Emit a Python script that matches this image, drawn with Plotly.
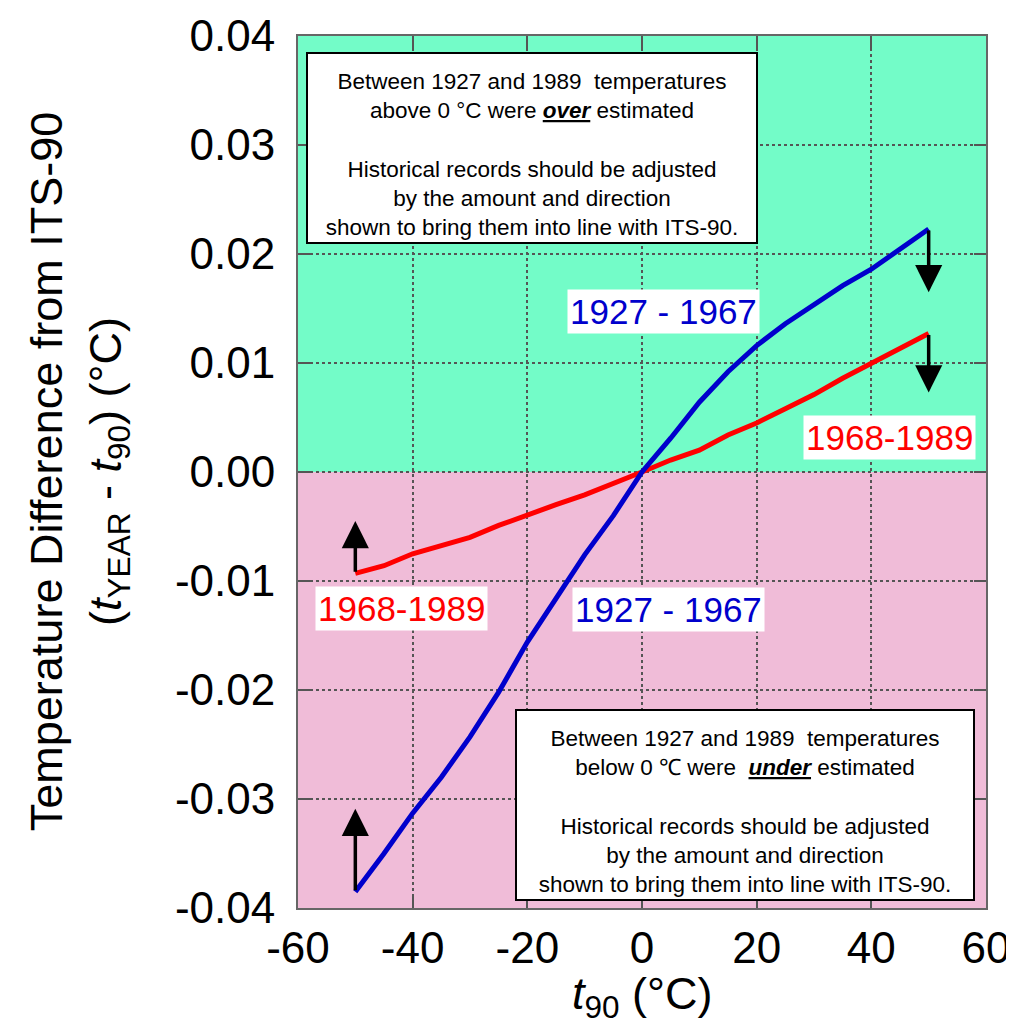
import plotly.graph_objects as go

# ---------------- data ----------------
t90 = [-50, -45, -40, -35, -30, -25, -20, -15, -10, -5, 0, 5, 10, 15, 20, 25, 30, 35, 40, 45, 50]
diff_1927_1967 = [-0.0385, -0.0350, -0.0313, -0.0280, -0.0243, -0.0202, -0.0156, -0.0117, -0.0076, -0.0040, 0.0,
                  0.0031, 0.0064, 0.0092, 0.0116, 0.0136, 0.0153, 0.0171, 0.0186, 0.0204, 0.0223]
diff_1968_1989 = [-0.0093, -0.0086, -0.0075, -0.0068, -0.0060, -0.0049, -0.0039, -0.0030, -0.0021, -0.0011, 0.0,
                  0.0011, 0.0020, 0.0034, 0.0045, 0.0058, 0.0071, 0.0086, 0.0100, 0.0114, 0.0127]

x_tickvals = [-60, -40, -20, 0, 20, 40, 60]
x_ticktext = ["-60", "-40", "-20", "0", "20", "40", "60"]
y_tickvals = [-0.04, -0.03, -0.02, -0.01, 0.0, 0.01, 0.02, 0.03, 0.04]
y_ticktext = ["-0.04", "-0.03", "-0.02", "-0.01", "0.00", "0.01", "0.02", "0.03", "0.04"]

BLUE = "#0000CC"
RED = "#FF0000"
GREEN_BG = "#73FCC8"
PINK_BG = "#F0BCD8"
FONT = "Liberation Sans, Arial, sans-serif"

fig = go.Figure()
fig.add_trace(go.Scatter(x=t90, y=diff_1968_1989, mode="lines",
                         line=dict(color=RED, width=5), showlegend=False))
fig.add_trace(go.Scatter(x=t90, y=diff_1927_1967, mode="lines",
                         line=dict(color=BLUE, width=5), showlegend=False))

# background bands
fig.add_shape(type="rect", xref="x", yref="y", x0=-60, x1=60, y0=0, y1=0.04,
              fillcolor=GREEN_BG, line=dict(width=0), layer="below")
fig.add_shape(type="rect", xref="x", yref="y", x0=-60, x1=60, y0=-0.04, y1=0,
              fillcolor=PINK_BG, line=dict(width=0), layer="below")

# arrows (tail at curve end, head pointing direction of correction)
arrow_specs = [
    (t90[0], diff_1927_1967[0], 0.0076),
    (t90[0], diff_1968_1989[0], 0.0048),
    (t90[-1], diff_1927_1967[-1], -0.0058),
    (t90[-1], diff_1968_1989[-1], -0.0054),
]
for xa, ya, dl in arrow_specs:
    fig.add_annotation(x=xa, y=ya + dl, ax=xa, ay=ya, xref="x", yref="y",
                       axref="x", ayref="y", text="", showarrow=True,
                       arrowhead=2, arrowsize=1.55, arrowwidth=3.5, arrowcolor="black")

# series labels
labels = [
    ("1927 - 1967", 3.7, 0.01468, BLUE),
    ("1968-1989", 43.1, 0.00312, RED),
    ("1968-1989", -42.0, -0.01248, RED),
    ("1927 - 1967", 4.7, -0.01266, BLUE),
]
for txt, lx, ly, col in labels:
    fig.add_annotation(x=lx, y=ly, xref="x", yref="y", text=txt, showarrow=False,
                       font=dict(family=FONT, size=35, color=col),
                       bgcolor="white", borderpad=2)

box_top = ("Between 1927 and 1989\u00a0 temperatures<br>"
           "above 0 \u00b0C were <b><i><u>over</u></i></b> estimated<br><br>"
           "Historical records should be adjusted<br>"
           "by the amount and direction<br>"
           "shown to bring them into line with ITS-90.")
box_bot = ("Between 1927 and 1989\u00a0 temperatures<br>"
           "below 0 \u2103 were\u00a0 <b><i><u>under</u></i></b> estimated<br><br>"
           "Historical records should be adjusted<br>"
           "by the amount and direction<br>"
           "shown to bring them into line with ITS-90.")
fig.add_annotation(x=-19.1, y=0.02972, xref="x", yref="y", text=box_top, showarrow=False,
                   font=dict(family=FONT, size=22.5, color="black"), align="center", valign="bottom",
                   bgcolor="white", bordercolor="black", borderwidth=2, borderpad=2,
                   width=444, height=184)
fig.add_annotation(x=18.05, y=-0.03055, xref="x", yref="y", text=box_bot, showarrow=False,
                   font=dict(family=FONT, size=22.5, color="black"), align="center", valign="bottom",
                   bgcolor="white", bordercolor="black", borderwidth=2, borderpad=2,
                   width=452, height=184)

# axis titles
fig.add_annotation(xref="paper", yref="paper", x=-0.318, y=0.5, xanchor="center", yanchor="middle",
                   text="Temperature Difference from ITS-90<br>(<i>t</i><sub>YEAR</sub> - <i>t</i><sub>90</sub>) (\u00b0C)",
                   textangle=-90, showarrow=False, font=dict(family=FONT, size=45, color="black"))
fig.add_annotation(xref="paper", yref="paper", x=0.5, y=-0.066, xanchor="center", yanchor="top",
                   text="<i>t</i><sub>90</sub> (\u00b0C)", showarrow=False,
                   font=dict(family=FONT, size=45, color="black"))

axis_common = dict(showgrid=True, gridcolor="#555555", griddash="3px,3px", gridwidth=1.5,
                   zeroline=False, showline=True, linecolor="#666666", linewidth=2,
                   mirror="ticks", ticks="inside", ticklen=12, tickwidth=1.5, tickcolor="#555555",
                   tickfont=dict(family=FONT, size=44, color="black"), automargin=False)
fig.update_xaxes(range=[-60, 60], tickvals=x_tickvals, ticktext=x_ticktext, **axis_common)
fig.update_yaxes(range=[-0.04, 0.04], tickvals=y_tickvals, ticktext=y_ticktext,
                 ticklabelstandoff=12, **axis_common)

# the page body adds an 8px margin, so the figure is sized to the remaining window
fig.update_layout(width=1006, height=1022, margin=dict(l=290, r=28, t=28, b=122),
                  paper_bgcolor="white", plot_bgcolor="white", showlegend=False)

fig.write_html("out.html")
